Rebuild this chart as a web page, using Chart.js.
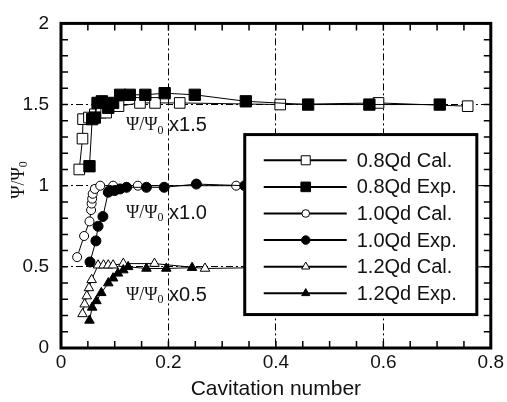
<!DOCTYPE html>
<html>
<head>
<meta charset="utf-8">
<script src="https://cdn.jsdelivr.net/npm/chart.js@4.4.1/dist/chart.umd.min.js"></script>
<style>
  html, body { margin: 0; padding: 0; background: #fff; }
  #wrap { width: 507px; height: 402px; }
</style>
</head>
<body>
<div id="wrap"><canvas id="chart"></canvas></div>
<script>
// values (cavitation number vs head coefficient)
const cal08X = [0.034, 0.040, 0.041, 0.052, 0.063, 0.074, 0.084, 0.107, 0.147, 0.175, 0.221, 0.408, 0.591, 0.757];
const cal08Y = [1.10, 1.29, 1.41, 1.42, 1.44, 1.45, 1.45, 1.49, 1.51, 1.51, 1.51, 1.50, 1.51, 1.49];
const exp08X = [0.053, 0.058, 0.063, 0.068, 0.076, 0.088, 0.097, 0.110, 0.128, 0.157, 0.193, 0.249, 0.344, 0.460, 0.574, 0.705];
const exp08Y = [1.12, 1.41, 1.42, 1.51, 1.52, 1.48, 1.51, 1.56, 1.56, 1.56, 1.57, 1.56, 1.52, 1.50, 1.50, 1.50];

const cal10X = [0.030, 0.043, 0.053, 0.056, 0.057, 0.058, 0.059, 0.063, 0.073, 0.097, 0.143, 0.326, 0.460, 0.590, 0.760, 0.850];
const cal10Y = [0.56, 0.69, 0.78, 0.85, 0.89, 0.92, 0.95, 0.98, 1.00, 1.00, 1.00, 1.00, 1.00, 1.00, 1.00, 1.00];
const exp10X = [0.054, 0.065, 0.069, 0.078, 0.088, 0.091, 0.100, 0.110, 0.122, 0.159, 0.192, 0.252, 0.342, 0.460, 0.570, 0.700];
const exp10Y = [0.53, 0.66, 0.75, 0.81, 0.96, 0.97, 0.97, 0.98, 0.99, 0.99, 0.99, 1.01, 1.00, 1.00, 1.00, 1.00];

const cal12X = [0.040, 0.044, 0.048, 0.052, 0.057, 0.069, 0.079, 0.088, 0.097, 0.116, 0.174, 0.268, 0.460, 0.620, 0.850];
const cal12Y = [0.21, 0.27, 0.32, 0.37, 0.42, 0.51, 0.51, 0.51, 0.51, 0.52, 0.52, 0.49, 0.50, 0.50, 0.50];
const exp12X = [0.053, 0.058, 0.066, 0.075, 0.088, 0.097, 0.106, 0.116, 0.125, 0.159, 0.196, 0.244];
const exp12Y = [0.17, 0.25, 0.29, 0.34, 0.40, 0.43, 0.46, 0.48, 0.50, 0.49, 0.49, 0.495];

const seriesNames = ['0.8Qd Cal.', '0.8Qd Exp.', '1.0Qd Cal.', '1.0Qd Exp.', '1.2Qd Cal.', '1.2Qd Exp.'];
const xTickLabels = ['0', '0.2', '0.4', '0.6', '0.8'];
const yTickLabels = ['0', '0.5', '1', '1.5', '2'];
const scaleNotes = ['x1.5', 'x1.0', 'x0.5'];
const scaleNoteY = [1.37, 0.83, 0.325];

const SANS = '"Liberation Sans", Arial, Helvetica, sans-serif';
const SERIF = '"Liberation Serif", "Times New Roman", serif';

function series(label, xs, ys, style, filled, radius) {
    return {
        label: label,
        data: xs.map((x, i) => ({ x: x, y: ys[i] })),
        showLine: true,
        borderColor: '#000',
        borderWidth: 1,
        tension: 0,
        pointStyle: style,
        pointRadius: radius,
        pointBorderWidth: 1,
        pointBorderColor: '#000',
        pointBackgroundColor: filled ? '#000' : '#fff',
        order: filled ? 0 : 1
    };
}

const datasets = [
    series(seriesNames[0], cal08X, cal08Y, 'rect', false, 7.5),
    series(seriesNames[1], exp08X, exp08Y, 'rect', true, 8),
    series(seriesNames[2], cal10X, cal10Y, 'circle', false, 4.5),
    series(seriesNames[3], exp10X, exp10Y, 'circle', true, 5),
    series(seriesNames[4], cal12X, cal12Y, 'triangle', false, 5.5),
    series(seriesNames[5], exp12X, exp12Y, 'triangle', true, 5.5)
];

function near(v, step) {
    return Math.abs(v / step - Math.round(v / step)) < 1e-6;
}

// Psi/Psi0 with a subscript zero, optionally followed by sans text
function drawPsiRatio(ctx, x, y, tail) {
    ctx.font = '18px ' + SERIF;
    ctx.fillText('\u03A8/\u03A8', x, y);
    let w = ctx.measureText('\u03A8/\u03A8').width;
    ctx.font = '12px ' + SERIF;
    ctx.fillText('0', x + w, y + 5);
    w += ctx.measureText('0').width;
    if (tail) {
        ctx.font = '20px ' + SANS;
        ctx.fillText(' ' + tail, x + w, y);
    }
}

const decorations = {
    id: 'decorations',
    afterDatasetsDraw(chart) {
        const ctx = chart.ctx;
        const area = chart.chartArea;
        const xs = chart.scales.x;
        const ys = chart.scales.y;
        ctx.save();

        // inward minor ticks on all four sides
        ctx.strokeStyle = '#000';
        ctx.lineWidth = 1.5;
        ctx.beginPath();
        xs.ticks.forEach(t => {
            const px = xs.getPixelForValue(t.value);
            ctx.moveTo(px, area.top); ctx.lineTo(px, area.top + 7);
            ctx.moveTo(px, area.bottom); ctx.lineTo(px, area.bottom - 7);
        });
        ys.ticks.forEach(t => {
            const py = ys.getPixelForValue(t.value);
            ctx.moveTo(area.left, py); ctx.lineTo(area.left + 7, py);
            ctx.moveTo(area.right, py); ctx.lineTo(area.right - 7, py);
        });
        ctx.stroke();

        // frame
        ctx.lineWidth = 3;
        ctx.strokeRect(area.left, area.top, area.right - area.left, area.bottom - area.top);

        // scale factor notes
        ctx.fillStyle = '#111';
        ctx.textBaseline = 'middle';
        ctx.textAlign = 'left';
        scaleNotes.forEach((note, i) => {
            drawPsiRatio(ctx, xs.getPixelForValue(0.121), ys.getPixelForValue(scaleNoteY[i]), note);
        });

        // legend box over the plot
        const bl = xs.getPixelForValue(0.342);
        const br = xs.getPixelForValue(0.774);
        const bt = ys.getPixelForValue(1.315);
        const bb = ys.getPixelForValue(0.206);
        ctx.fillStyle = '#fff';
        ctx.fillRect(bl, bt, br - bl, bb - bt);
        ctx.strokeStyle = '#000';
        ctx.lineWidth = 3;
        ctx.strokeRect(bl, bt, br - bl, bb - bt);

        chart.data.datasets.forEach((ds, i) => {
            const ry = bt + 25.7 + i * 26.6;
            ctx.strokeStyle = '#000';
            ctx.lineWidth = 2;
            ctx.beginPath();
            ctx.moveTo(bl + 19, ry);
            ctx.lineTo(bl + 102, ry);
            ctx.stroke();
            ctx.fillStyle = ds.pointBackgroundColor;
            ctx.lineWidth = 1;
            Chart.helpers.drawPoint(ctx, {
                pointStyle: ds.pointStyle,
                radius: ds.pointRadius * 0.85,
                rotation: 0,
                borderWidth: 1
            }, bl + 61, ry);
            ctx.fillStyle = '#111';
            ctx.font = '20px ' + SANS;
            ctx.textAlign = 'left';
            ctx.textBaseline = 'middle';
            ctx.fillText(ds.label, bl + 112, ry + 1);
        });

        // y axis title
        ctx.translate(19, 180);
        ctx.rotate(-Math.PI / 2);
        ctx.fillStyle = '#111';
        ctx.textBaseline = 'middle';
        ctx.font = '18px ' + SERIF;
        let w = ctx.measureText('\u03A8/\u03A8').width;
        ctx.font = '12px ' + SERIF;
        w += ctx.measureText('0').width;
        drawPsiRatio(ctx, -w / 2, 0, null);

        ctx.restore();
    }
};

new Chart(document.getElementById('chart'), {
    type: 'line',
    data: { datasets: datasets },
    options: {
        responsive: true,
        maintainAspectRatio: false,
        animation: false,
        layout: { padding: { top: 20, right: 16, left: 0, bottom: 0 } },
        plugins: {
            legend: { display: false },
            tooltip: { enabled: false }
        },
        scales: {
            x: {
                type: 'linear',
                min: 0,
                max: 0.8,
                afterFit: s => { s.height = 54; },
                ticks: {
                    stepSize: 0.05,
                    autoSkip: false,
                    maxRotation: 0,
                    padding: 3,
                    color: '#111',
                    font: { family: SANS, size: 19 },
                    callback: v => near(v, 0.2) ? xTickLabels[Math.round(v / 0.2)] : ''
                },
                grid: {
                    drawTicks: false,
                    lineWidth: 1,
                    color: c => (c.tick && near(c.tick.value, 0.2) && c.tick.value > 0.01 && c.tick.value < 0.79) ? '#000' : 'rgba(0,0,0,0)'
                },
                border: { display: false, dash: [7, 3, 2, 3] },
                title: {
                    display: true,
                    text: 'Cavitation number',
                    color: '#111',
                    font: { family: SANS, size: 21 },
                    padding: 0
                }
            },
            y: {
                type: 'linear',
                min: 0,
                max: 2,
                afterFit: s => { s.width = 61; },
                ticks: {
                    stepSize: 0.1,
                    autoSkip: false,
                    padding: 12,
                    color: '#111',
                    font: { family: SANS, size: 19 },
                    callback: v => near(v, 0.5) ? yTickLabels[Math.round(v / 0.5)] : ''
                },
                grid: {
                    drawTicks: false,
                    lineWidth: 1,
                    color: c => (c.tick && near(c.tick.value, 0.5) && c.tick.value > 0.01 && c.tick.value < 1.99) ? '#000' : 'rgba(0,0,0,0)'
                },
                border: { display: false, dash: [7, 3, 2, 3] }
            }
        }
    },
    plugins: [decorations]
});
</script>
</body>
</html>
